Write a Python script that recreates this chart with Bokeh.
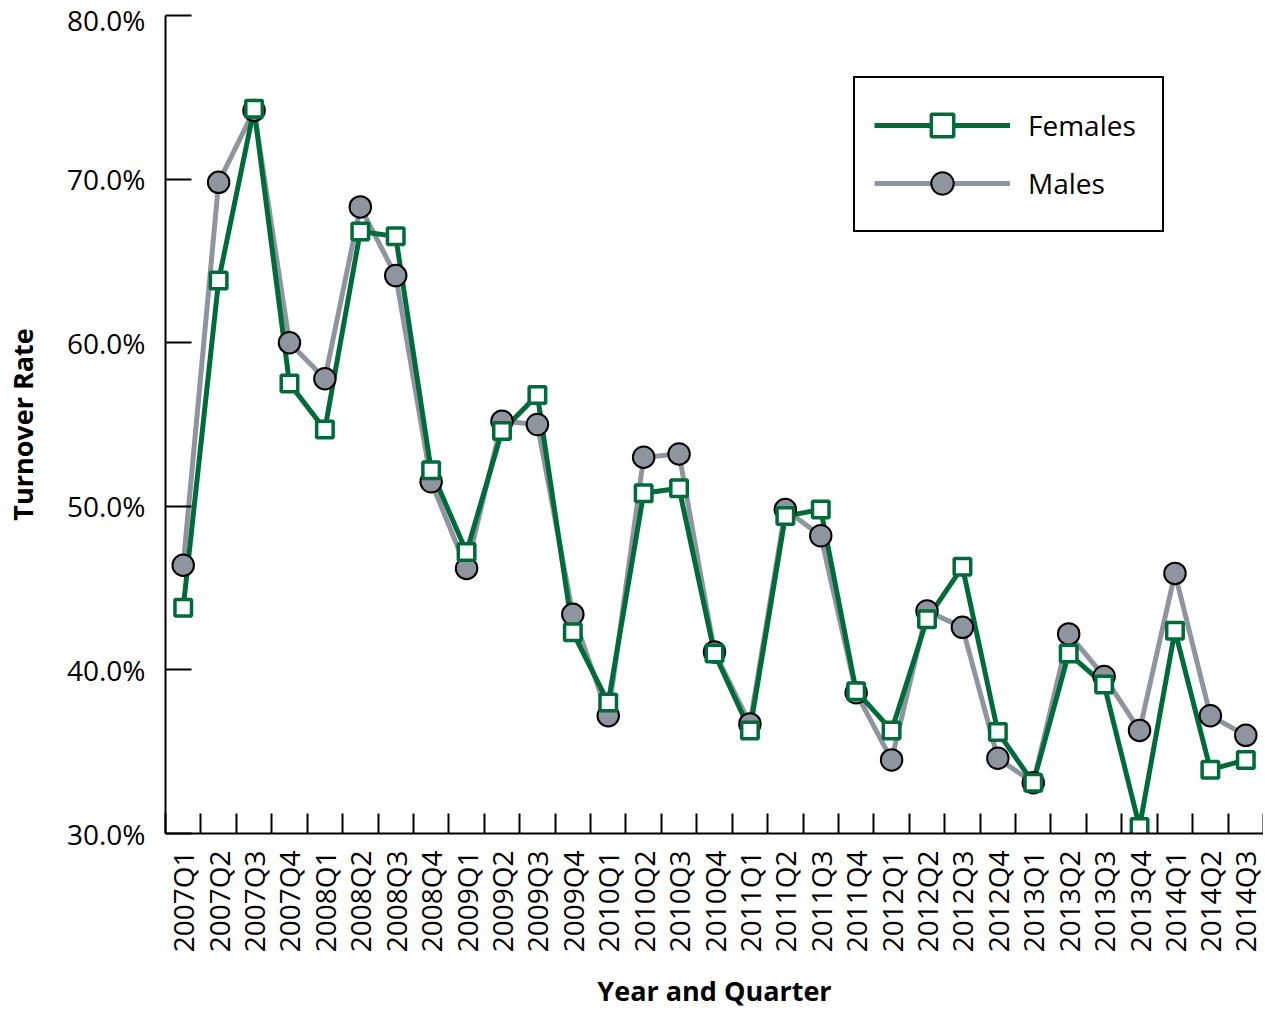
import math
from bokeh.plotting import figure
from bokeh.models import (Range1d, FixedTicker, LinearAxis, PrintfTickFormatter,
                          Legend, LegendItem, ColumnDataSource)
from bokeh.embed import file_html
from bokeh.resources import INLINE

quarters = ["2007Q1", "2007Q2", "2007Q3", "2007Q4",
            "2008Q1", "2008Q2", "2008Q3", "2008Q4",
            "2009Q1", "2009Q2", "2009Q3", "2009Q4",
            "2010Q1", "2010Q2", "2010Q3", "2010Q4",
            "2011Q1", "2011Q2", "2011Q3", "2011Q4",
            "2012Q1", "2012Q2", "2012Q3", "2012Q4",
            "2013Q1", "2013Q2", "2013Q3", "2013Q4",
            "2014Q1", "2014Q2", "2014Q3"]

females = [43.8, 63.8, 74.3, 57.5, 54.7, 66.8, 66.5, 52.2,
           47.2, 54.6, 56.8, 42.3, 38.0, 50.8, 51.1, 41.0,
           36.3, 49.4, 49.8, 38.7, 36.3, 43.1, 46.3, 36.2,
           33.1, 41.0, 39.1, 30.4, 42.4, 33.9, 34.5]

males = [46.4, 69.8, 74.2, 60.0, 57.8, 68.3, 64.1, 51.5,
         46.2, 55.2, 55.0, 43.4, 37.2, 53.0, 53.2, 41.1,
         36.7, 49.8, 48.2, 38.6, 34.5, 43.6, 42.6, 34.6,
         33.1, 42.2, 39.6, 36.3, 45.9, 37.2, 36.0]

y_ticks = [30, 40, 50, 60, 70, 80]

GREEN = "#006b3a"
GRAY = "#8f959e"
FONT = "Open Sans"

n = len(quarters)
xs = list(range(n))
src = ColumnDataSource(dict(x=xs, females=females, males=males))

p = figure(width=1263, height=1013, output_backend="svg", toolbar_location=None,
           x_range=Range1d(-0.5, n - 0.5), y_range=Range1d(30, 80),
           x_axis_type=None, y_axis_type=None,
           min_border_left=165, min_border_right=0,
           min_border_top=15, min_border_bottom=180)
p.outline_line_color = None
p.background_fill_color = "white"
p.border_fill_color = "white"

xaxis = LinearAxis(
    ticker=FixedTicker(ticks=xs, minor_ticks=[i - 0.5 for i in range(n + 1)]),
    major_label_overrides={i: q for i, q in enumerate(quarters)},
    axis_label="Year and Quarter",
    axis_line_color="black", axis_line_width=2,
    major_tick_in=0, major_tick_out=0,
    minor_tick_in=20, minor_tick_out=0,
    minor_tick_line_color="black", minor_tick_line_width=2,
    major_label_orientation=math.pi / 2,
    major_label_standoff=17,
    major_label_text_font=FONT, major_label_text_font_size="28px",
    major_label_text_color="black",
    axis_label_text_font=FONT, axis_label_text_font_size="27px",
    axis_label_text_font_style="bold", axis_label_text_color="black",
    axis_label_standoff=17,
)
p.add_layout(xaxis, "below")

yaxis = LinearAxis(
    ticker=FixedTicker(ticks=y_ticks, minor_ticks=[]),
    formatter=PrintfTickFormatter(format="%.1f%%"),
    axis_label="Turnover Rate",
    axis_line_color="black", axis_line_width=2,
    major_tick_in=26, major_tick_out=0,
    major_tick_line_color="black", major_tick_line_width=2,
    minor_tick_in=0, minor_tick_out=0,
    major_label_standoff=20,
    major_label_text_baseline="top",
    major_label_text_font=FONT, major_label_text_font_size="28px",
    major_label_text_color="black",
    axis_label_text_font=FONT, axis_label_text_font_size="27px",
    axis_label_text_font_style="bold", axis_label_text_color="black",
    axis_label_standoff=23,
)
p.add_layout(yaxis, "left")

gl = p.line("x", "males", source=src, line_color=GRAY, line_width=5)
fl = p.line("x", "females", source=src, line_color=GREEN, line_width=5)
gc = p.scatter("x", "males", source=src, marker="circle", size=21.5,
               fill_color=GRAY, line_color="black", line_width=2)
fs = p.scatter("x", "females", source=src, marker="square", size=16.5,
               fill_color="white", line_color=GREEN, line_width=3.5)

legend = Legend(
    items=[LegendItem(label="Females", renderers=[fl, fs]),
           LegendItem(label="Males", renderers=[gl, gc])],
    location=(688, 601),
    border_line_color="black", border_line_width=2, border_line_alpha=1,
    background_fill_color="white", background_fill_alpha=1,
    padding=19, spacing=2, margin=0,
    glyph_width=136, glyph_height=56, label_height=56, label_width=115,
    label_standoff=18,
    label_text_font=FONT, label_text_font_size="28px", label_text_color="black",
)
p.add_layout(legend, "center")

open("out.html", "w").write(file_html(p, INLINE))
